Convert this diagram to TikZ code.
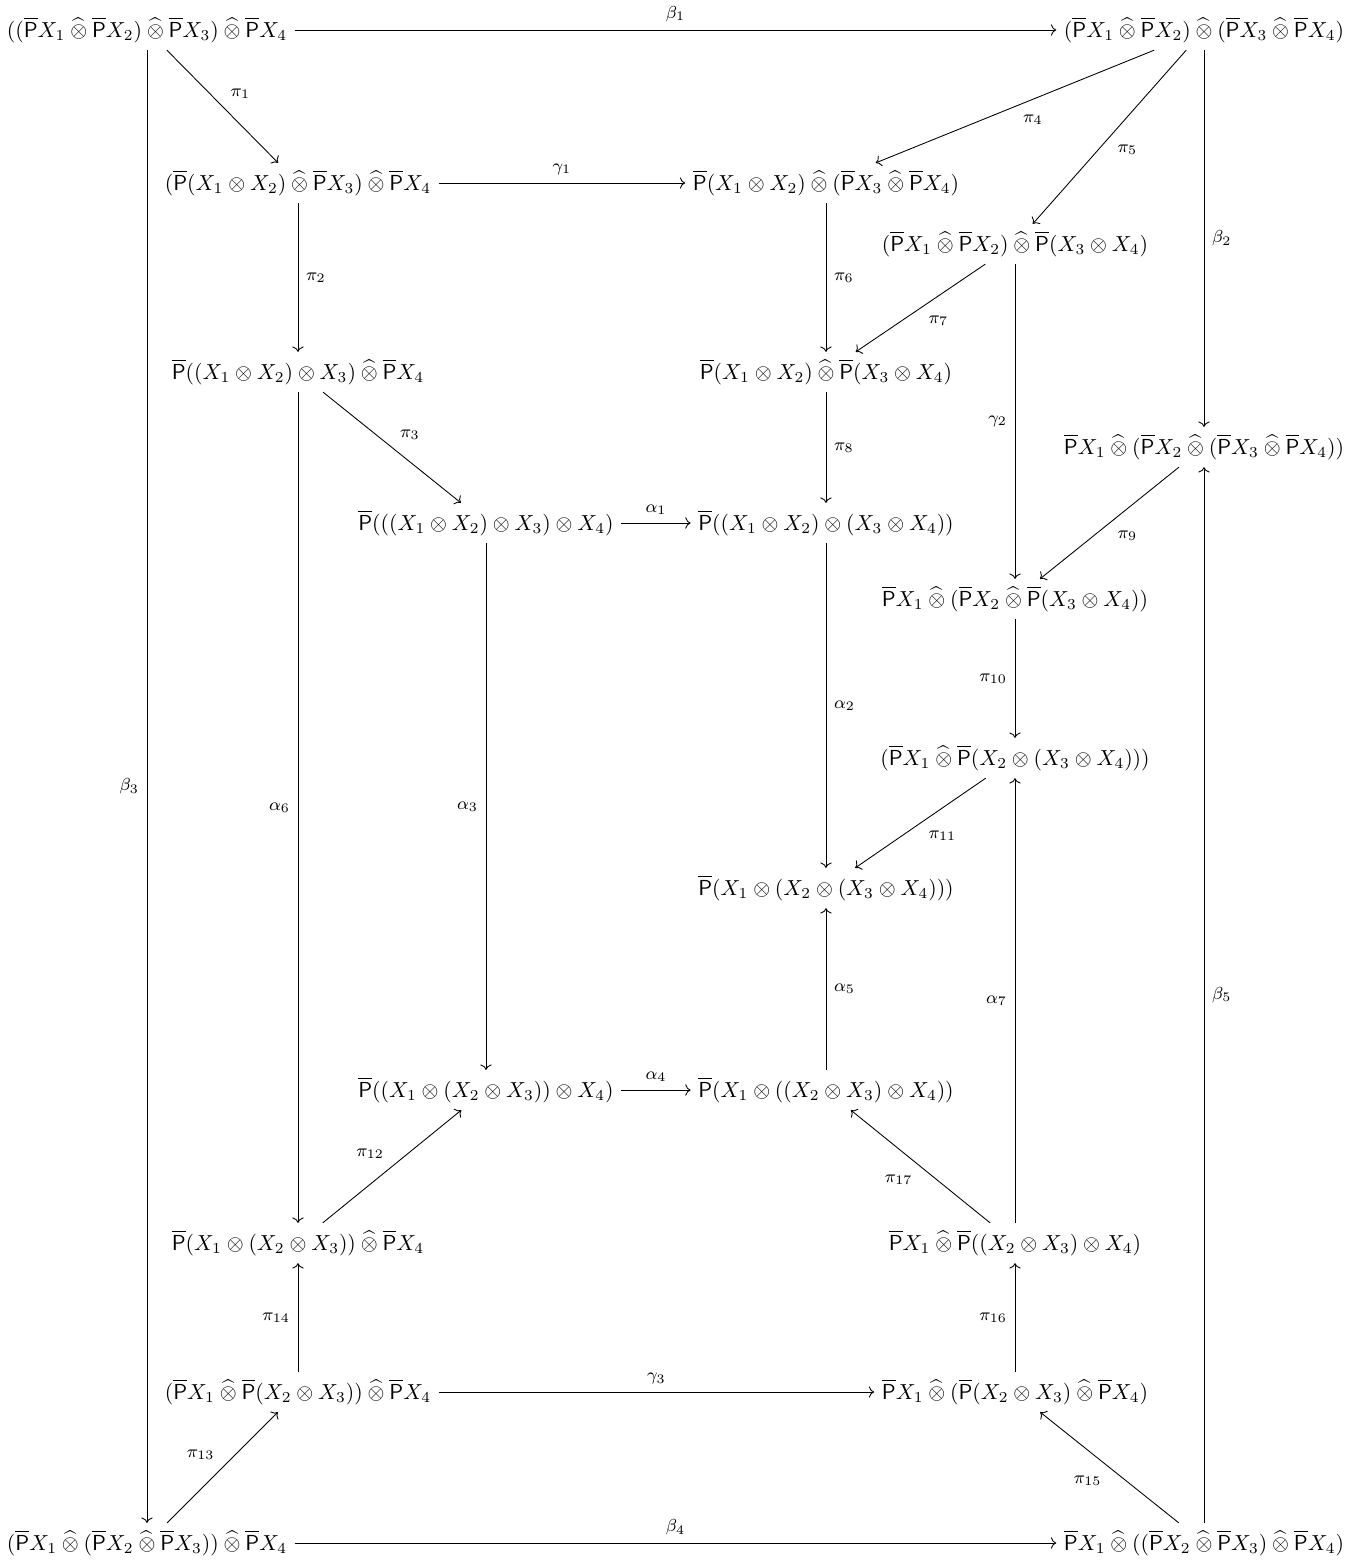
\documentclass[tikz,border=0pt]{standalone}
\usepackage{amsmath, amssymb}
\usepackage{tikz}
\usetikzlibrary{arrows.meta}
\newcommand{\barP}{\overline{\mathsf{P}}}
\newcommand{\hotimes}{\mathbin{\widehat{\otimes}}}

\begin{document}
\begin{tikzpicture}[x=0.46pt, y=-0.46pt, >=To,
    lbl/.style={font=\footnotesize, inner sep=3.5pt}]
    \useasboundingbox (0,0) rectangle (1358,1561);

    \node (A1) at (147,30) {$((\barP X_1 \hotimes \barP X_2) \hotimes \barP X_3) \hotimes \barP X_4$};
    \node (A2) at (1204,30) {$(\barP X_1 \hotimes \barP X_2) \hotimes (\barP X_3 \hotimes \barP X_4)$};
    \node (B1) at (298,183) {$(\barP(X_1 \otimes X_2) \hotimes \barP X_3) \hotimes \barP X_4$};
    \node (B2) at (826,183) {$\barP(X_1 \otimes X_2) \hotimes (\barP X_3 \hotimes \barP X_4)$};
    \node (C) at (1015,244) {$(\barP X_1 \hotimes \barP X_2) \hotimes \barP(X_3 \otimes X_4)$};
    \node (D1) at (298,372) {$\barP((X_1 \otimes X_2) \otimes X_3) \hotimes \barP X_4$};
    \node (D2) at (826,372) {$\barP(X_1 \otimes X_2) \hotimes \barP(X_3 \otimes X_4)$};
    \node (E) at (1204,447) {$\barP X_1 \hotimes (\barP X_2 \hotimes (\barP X_3 \hotimes \barP X_4))$};
    \node (F1) at (486,523) {$\barP(((X_1 \otimes X_2) \otimes X_3) \otimes X_4)$};
    \node (F2) at (826,523) {$\barP((X_1 \otimes X_2) \otimes (X_3 \otimes X_4))$};
    \node (G) at (1015,599) {$\barP X_1 \hotimes (\barP X_2 \hotimes \barP(X_3 \otimes X_4))$};
    \node (H) at (1015,758) {$(\barP X_1 \hotimes \barP(X_2 \otimes (X_3 \otimes X_4)))$};
    \node (I) at (826,888) {$\barP(X_1 \otimes (X_2 \otimes (X_3 \otimes X_4)))$};
    \node (J1) at (486,1090) {$\barP((X_1 \otimes (X_2 \otimes X_3)) \otimes X_4)$};
    \node (J2) at (826,1090) {$\barP(X_1 \otimes ((X_2 \otimes X_3) \otimes X_4))$};
    \node (K1) at (298,1243) {$\barP(X_1 \otimes (X_2 \otimes X_3)) \hotimes \barP X_4$};
    \node (K2) at (1015,1243) {$\barP X_1 \hotimes \barP((X_2 \otimes X_3) \otimes X_4)$};
    \node (L1) at (298,1392) {$(\barP X_1 \hotimes \barP(X_2 \otimes X_3)) \hotimes \barP X_4$};
    \node (L2) at (1015,1392) {$\barP X_1 \hotimes (\barP(X_2 \otimes X_3) \hotimes \barP X_4)$};
    \node (M1) at (147,1543) {$(\barP X_1 \hotimes (\barP X_2 \hotimes \barP X_3)) \hotimes \barP X_4$};
    \node (M2) at (1204,1543) {$\barP X_1 \hotimes ((\barP X_2 \hotimes \barP X_3) \hotimes \barP X_4)$};

    \draw[->] (A1) -- (A2) node[lbl, midway, auto] {$\beta_1$};
    \draw[->] (A1) -- (M1) node[lbl, midway, auto, swap] {$\beta_3$};
    \draw[->] (A1) -- (B1) node[lbl, midway, auto] {$\pi_1$};
    \draw[->] (A2) -- (E) node[lbl, midway, auto] {$\beta_2$};
    \draw[->] (A2) -- (B2) node[lbl, midway, auto] {$\pi_4$};
    \draw[->] (A2) -- (C) node[lbl, midway, auto] {$\pi_5$};
    \draw[->] (B1) -- (B2) node[lbl, midway, auto] {$\gamma_1$};
    \draw[->] (B1) -- (D1) node[lbl, midway, auto] {$\pi_2$};
    \draw[->] (B2) -- (D2) node[lbl, midway, auto] {$\pi_6$};
    \draw[->] (C) -- (D2) node[lbl, midway, auto] {$\pi_7$};
    \draw[->] (C) -- (G) node[lbl, midway, auto, swap] {$\gamma_2$};
    \draw[->] (D1) -- (F1) node[lbl, midway, auto] {$\pi_3$};
    \draw[->] (D1) -- (K1) node[lbl, midway, auto, swap] {$\alpha_6$};
    \draw[->] (D2) -- (F2) node[lbl, midway, auto] {$\pi_8$};
    \draw[->] (E) -- (G) node[lbl, midway, auto] {$\pi_9$};
    \draw[->] (F1) -- (F2) node[lbl, midway, auto] {$\alpha_1$};
    \draw[->] (F1) -- (J1) node[lbl, midway, auto, swap] {$\alpha_3$};
    \draw[->] (F2) -- (I) node[lbl, midway, auto] {$\alpha_2$};
    \draw[->] (G) -- (H) node[lbl, midway, auto, swap] {$\pi_{10}$};
    \draw[->] (H) -- (I) node[lbl, midway, auto] {$\pi_{11}$};
    \draw[->] (J1) -- (J2) node[lbl, midway, auto] {$\alpha_4$};
    \draw[->] (J2) -- (I) node[lbl, midway, auto, swap] {$\alpha_5$};
    \draw[->] (K1) -- (J1) node[lbl, midway, auto] {$\pi_{12}$};
    \draw[->] (K2) -- (H) node[lbl, midway, auto] {$\alpha_7$};
    \draw[->] (K2) -- (J2) node[lbl, midway, auto] {$\pi_{17}$};
    \draw[->] (L1) -- (K1) node[lbl, midway, auto] {$\pi_{14}$};
    \draw[->] (L1) -- (L2) node[lbl, midway, auto] {$\gamma_3$};
    \draw[->] (L2) -- (K2) node[lbl, midway, auto] {$\pi_{16}$};
    \draw[->] (M1) -- (L1) node[lbl, midway, auto] {$\pi_{13}$};
    \draw[->] (M1) -- (M2) node[lbl, midway, auto] {$\beta_4$};
    \draw[->] (M2) -- (L2) node[lbl, midway, auto] {$\pi_{15}$};
    \draw[->] (M2) -- (E) node[lbl, midway, auto, swap] {$\beta_5$};
\end{tikzpicture}
\end{document}
